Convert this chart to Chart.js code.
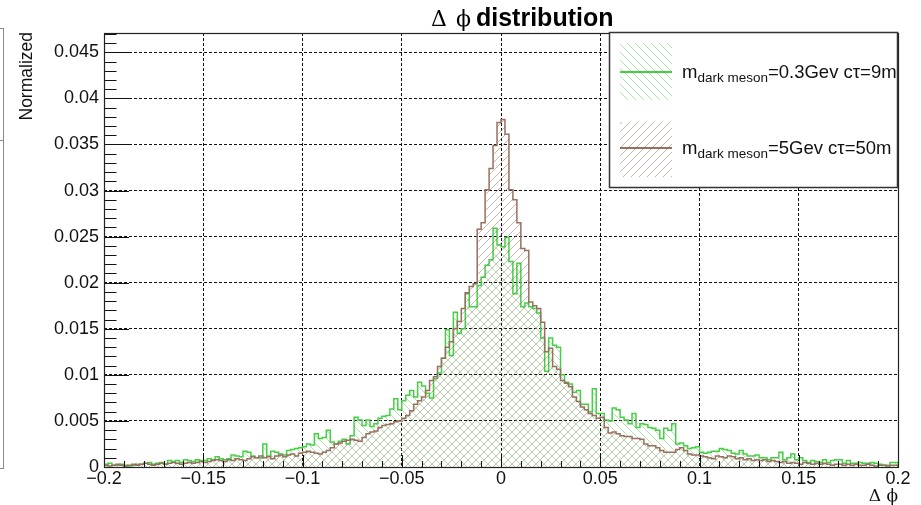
<!DOCTYPE html>
<html>
<head>
<meta charset="utf-8">
<title>Δϕ distribution</title>
<script src="https://cdn.jsdelivr.net/npm/chart.js@4/dist/chart.umd.min.js"></script>
<style>
  html, body { margin: 0; padding: 0; background: #fff; }
  #wrap { width: 921px; height: 505px; position: relative; }
</style>
</head>
<body>
<div id="wrap"><canvas id="c" width="921" height="505"></canvas></div>
<script>
// Histogram binning: 200 bins of width 0.002 over [-0.2, 0.2]
const binLow = -0.2;
const binHigh = 0.2;
const binWidth = 0.002;

// Axis ticks
const xMajorTicks = [-0.2, -0.15, -0.1, -0.05, 0, 0.05, 0.1, 0.15, 0.2];
const yMajorTicks = [0, 0.005, 0.01, 0.015, 0.02, 0.025, 0.03, 0.035, 0.04, 0.045];
const yMax = 0.0471;

// Series names (drawn with a subscript in the legend)
const seriesNames = [
  { base: 'm', sub: 'dark meson', rest: '=0.3Gev c\u03C4=9m' },
  { base: 'm', sub: 'dark meson', rest: '=5Gev c\u03C4=50m' }
];

// Normalized Δϕ contents, m = 0.3 GeV, cτ = 9 m
const lightMeson = [
  0.0003, 0.0004, 0.0002, 0.0002, 0.0003, 0.0002, 0.0001, 0.0002, 0.0003, 0.0003,
  0.0004, 0.0005, 0.0003, 0.0004, 0.0005, 0.0003, 0.0007, 0.0006, 0.0007, 0.0005,
  0.0008, 0.0007, 0.0006, 0.0008, 0.0007,
  0.0007, 0.0009, 0.0008, 0.0011, 0.0009, 0.0008, 0.0009, 0.0013, 0.0012, 0.0011,
  0.0017, 0.0016, 0.0012, 0.0010, 0.0010, 0.0025, 0.0012, 0.0017, 0.0016, 0.0014,
  0.0013, 0.0018, 0.0019, 0.0020, 0.0021,
  0.0022, 0.0025, 0.0024, 0.0036, 0.0031, 0.0032, 0.0040, 0.0027, 0.0025, 0.0028,
  0.0030, 0.0025, 0.0034, 0.0054, 0.0051, 0.0045, 0.0051, 0.0044, 0.0047, 0.0053,
  0.0055, 0.0056, 0.0063, 0.0074, 0.0062,
  0.0072, 0.0078, 0.0083, 0.0076, 0.0092, 0.0088, 0.0080, 0.0075, 0.0096, 0.0102,
  0.0118, 0.0149, 0.0121, 0.0168, 0.0145, 0.0150, 0.0188, 0.0174, 0.0174, 0.0197,
  0.0206, 0.0219, 0.0225, 0.0259, 0.0241,
  0.0239, 0.0249, 0.0223, 0.0188, 0.0221, 0.0174, 0.0178, 0.0174, 0.0172, 0.0167,
  0.0140, 0.0104, 0.0140, 0.0132, 0.0130, 0.0100, 0.0092, 0.0090, 0.0081, 0.0083,
  0.0068, 0.0068, 0.0060, 0.0085, 0.0058,
  0.0058, 0.0051, 0.0050, 0.0064, 0.0062, 0.0054, 0.0051, 0.0047, 0.0058, 0.0043,
  0.0047, 0.0046, 0.0043, 0.0042, 0.0040, 0.0031, 0.0042, 0.0040, 0.0047, 0.0025,
  0.0026, 0.0023, 0.0020, 0.0021, 0.0022,
  0.0016, 0.0015, 0.0016, 0.0017, 0.0017, 0.0020, 0.0019, 0.0018, 0.0015, 0.0014,
  0.0018, 0.0014, 0.0012, 0.0012, 0.0013, 0.0010, 0.0010, 0.0008, 0.0010, 0.0010,
  0.0016, 0.0008, 0.0010, 0.0014, 0.0008,
  0.0010, 0.0007, 0.0005, 0.0007, 0.0006, 0.0005, 0.0008, 0.0005, 0.0007, 0.0008,
  0.0008, 0.0004, 0.0007, 0.0004, 0.0004, 0.0005, 0.0004, 0.0004, 0.0005, 0.0004,
  0.0003, 0.0002, 0.0002, 0.0005, 0.0005
];

// Normalized Δϕ contents, m = 5 GeV, cτ = 50 m
const heavyMeson = [
  0.0002, 0.0001, 0.0002, 0.0003, 0.0002, 0.0001, 0.0002, 0.0003, 0.0002, 0.0003,
  0.0004, 0.0003, 0.0002, 0.0003, 0.0004, 0.0003, 0.0004, 0.0005, 0.0004, 0.0003,
  0.0004, 0.0005, 0.0004, 0.0005, 0.0006,
  0.0005, 0.0006, 0.0007, 0.0008, 0.0007, 0.0006, 0.0008, 0.0007, 0.0009, 0.0008,
  0.0007, 0.0009, 0.0011, 0.0010, 0.0012, 0.0010, 0.0011, 0.0009, 0.0012, 0.0013,
  0.0011, 0.0013, 0.0014, 0.0012, 0.0015,
  0.0016, 0.0017, 0.0016, 0.0015, 0.0014, 0.0016, 0.0018, 0.0021, 0.0025, 0.0026,
  0.0028, 0.0029, 0.0030, 0.0029, 0.0028, 0.0032, 0.0036, 0.0038, 0.0039, 0.0043,
  0.0045, 0.0046, 0.0047, 0.0049, 0.0050,
  0.0053, 0.0056, 0.0061, 0.0068, 0.0072, 0.0076, 0.0083, 0.0094, 0.0098, 0.0109,
  0.0118, 0.0130, 0.0136, 0.0150, 0.0158, 0.0172, 0.0189, 0.0196, 0.0199, 0.0258,
  0.0265, 0.0301, 0.0324, 0.0349, 0.0374,
  0.0377, 0.0361, 0.0301, 0.0290, 0.0265, 0.0237, 0.0235, 0.0179, 0.0175, 0.0172,
  0.0157, 0.0125, 0.0129, 0.0109, 0.0106, 0.0094, 0.0091, 0.0087, 0.0076, 0.0071,
  0.0065, 0.0062, 0.0058, 0.0056, 0.0053,
  0.0054, 0.0043, 0.0037, 0.0038, 0.0036, 0.0034, 0.0033, 0.0033, 0.0031, 0.0031,
  0.0030, 0.0025, 0.0023, 0.0023, 0.0021, 0.0018, 0.0016, 0.0016, 0.0016, 0.0019,
  0.0021, 0.0018, 0.0014, 0.0013, 0.0013,
  0.0012, 0.0011, 0.0010, 0.0009, 0.0012, 0.0011, 0.0010, 0.0012, 0.0011, 0.0009,
  0.0010, 0.0008, 0.0009, 0.0007, 0.0008, 0.0007, 0.0008, 0.0006, 0.0007, 0.0006,
  0.0005, 0.0006, 0.0004, 0.0005, 0.0004,
  0.0003, 0.0005, 0.0004, 0.0003, 0.0004, 0.0003, 0.0004, 0.0003, 0.0002, 0.0003,
  0.0003, 0.0002, 0.0003, 0.0002, 0.0003, 0.0002, 0.0002, 0.0003, 0.0002, 0.0001,
  0.0002, 0.0002, 0.0001, 0.0002, 0.0002
];

// Colours
const greenLine = '#45cf45';
const greenHatch = 'rgba(90, 205, 90, 0.5)';
const brownLine = '#98705f';
const brownHatch = 'rgba(150, 112, 98, 0.5)';

const canvas = document.getElementById('c');
const ctx = canvas.getContext('2d');

// Diagonal hatch fills: dir > 0 draws "/", dir < 0 draws "\"
function hatch(color, dir) {
  const s = 8;
  const t = document.createElement('canvas');
  t.width = s; t.height = s;
  const g = t.getContext('2d');
  g.strokeStyle = color;
  g.lineWidth = 1;
  g.beginPath();
  if (dir > 0) {
    g.moveTo(0, s); g.lineTo(s, 0);
    g.moveTo(-1, 1); g.lineTo(1, -1);
    g.moveTo(s - 1, s + 1); g.lineTo(s + 1, s - 1);
  } else {
    g.moveTo(0, 0); g.lineTo(s, s);
    g.moveTo(s - 1, -1); g.lineTo(s + 1, 1);
    g.moveTo(-1, s - 1); g.lineTo(1, s + 1);
  }
  g.stroke();
  return ctx.createPattern(t, 'repeat');
}
const greenPattern = hatch(greenHatch, -1);
const brownPattern = hatch(brownHatch, 1);

// Step outline points: each bin starts at its low edge; closed down to zero at both ends
function histPoints(values) {
  const pts = [{ x: binLow, y: 0 }];
  values.forEach((v, i) => pts.push({ x: binLow + i * binWidth, y: v }));
  pts.push({ x: binHigh, y: values[values.length - 1] });
  pts.push({ x: binHigh, y: 0 });
  return pts;
}

function fmt(v) {
  const s = String(Number(v.toFixed(4)));
  return s.replace('-', '\u2212');
}

const SANS = '"Liberation Sans", Arial, Helvetica, sans-serif';
const SERIF = '"DejaVu Serif", "Liberation Serif", serif';
const PHI = '\u03D5';

// Frame, inner ticks, titles and legend
const decorations = {
  id: 'decorations',
  beforeDraw(chart) {
    const c = chart.ctx;
    c.save();
    c.fillStyle = '#fff';
    c.fillRect(0, 0, chart.width, chart.height);
    c.restore();
  },
  afterDatasetsDraw(chart) {
    const c = chart.ctx;
    const a = chart.chartArea;
    const xs = chart.scales.x, ys = chart.scales.y;
    c.save();

    // neighbouring pad edge at the far left
    c.strokeStyle = '#8a8a8a';
    c.lineWidth = 1;
    c.beginPath();
    c.moveTo(3.5, 28); c.lineTo(3.5, 469);
    c.moveTo(0, 28.5); c.lineTo(4, 28.5);
    c.moveTo(0, 140.5); c.lineTo(4, 140.5);
    c.moveTo(0, 468.5); c.lineTo(4, 468.5);
    c.stroke();

    // ticks on the y axis (minor every 0.001, major every 0.005)
    c.strokeStyle = '#111';
    c.lineWidth = 1;
    c.beginPath();
    for (let k = 0; k <= 47; k++) {
      const v = k / 1000;
      if (v > yMax) break;
      const py = Math.round(ys.getPixelForValue(v)) + 0.5;
      const len = (k % 5 === 0) ? 25 : 12.5;
      c.moveTo(a.left, py); c.lineTo(a.left + len, py);
    }
    // ticks on the x axis (minor every 0.01, major every 0.05)
    for (let k = -20; k <= 20; k++) {
      const v = k / 100;
      const px = Math.round(xs.getPixelForValue(v)) + 0.5;
      const len = (k % 5 === 0) ? 12 : 6;
      c.moveTo(px, a.bottom); c.lineTo(px, a.bottom - len);
    }
    c.stroke();

    // frame
    c.strokeStyle = '#222';
    c.lineWidth = 1.2;
    c.strokeRect(Math.round(a.left) + 0.5, Math.round(a.top) + 0.5,
                 Math.round(a.right - a.left), Math.round(a.bottom - a.top));

    // legend
    const lx = 609.5, ly = 32.5, lw = 288, lh = 155;
    c.fillStyle = '#fff';
    c.fillRect(lx, ly, lw, lh);
    c.strokeStyle = '#333';
    c.lineWidth = 1.5;
    c.strokeRect(lx, ly, lw, lh);

    const entries = [
      { pat: greenPattern, line: greenLine, top: 43, bottom: 100, mid: 72, base: 78, name: seriesNames[0] },
      { pat: brownPattern, line: brownLine, top: 122, bottom: 177, mid: 148, base: 154, name: seriesNames[1] }
    ];
    entries.forEach(e => {
      c.fillStyle = e.pat;
      c.fillRect(620, e.top, 52, e.bottom - e.top);
      c.strokeStyle = e.line;
      c.lineWidth = 1.8;
      c.beginPath();
      c.moveTo(620, e.mid); c.lineTo(672, e.mid);
      c.stroke();

      c.fillStyle = '#111';
      c.textBaseline = 'alphabetic';
      c.textAlign = 'left';
      let x = 682;
      c.font = '18.5px ' + SANS;
      c.fillText(e.name.base, x, e.base);
      x += c.measureText(e.name.base).width;
      c.font = '13.5px ' + SANS;
      c.fillText(e.name.sub, x, e.base + 4);
      x += c.measureText(e.name.sub).width;
      c.font = '18.5px ' + SANS;
      c.fillText(e.name.rest, x, e.base);
    });

    // title
    c.fillStyle = '#000';
    c.textAlign = 'left';
    c.textBaseline = 'alphabetic';
    c.font = '22px ' + SERIF;
    c.fillText('\u0394', 431, 26);
    c.fillText(PHI, 456, 26);
    c.font = 'bold 25px ' + SANS;
    c.fillText('distribution', 476, 26);

    // y axis title
    c.save();
    c.translate(32, 32);
    c.rotate(-Math.PI / 2);
    c.textAlign = 'right';
    c.font = '17.5px ' + SANS;
    c.fillStyle = '#111';
    c.fillText('Normalized', 0, 0);
    c.restore();

    // x axis title
    c.textAlign = 'right';
    c.font = '17px ' + SERIF;
    c.fillStyle = '#111';
    c.fillText('\u0394 ' + PHI, 898, 501);

    c.restore();
  }
};

new Chart(canvas, {
  type: 'scatter',
  data: {
    datasets: [
      {
        label: seriesNames[1].base + seriesNames[1].sub + seriesNames[1].rest,
        data: histPoints(heavyMeson),
        showLine: true,
        stepped: 'before',
        borderColor: brownLine,
        borderWidth: 1.5,
        backgroundColor: brownPattern,
        fill: 'origin',
        pointRadius: 0,
        pointHoverRadius: 0
      },
      {
        label: seriesNames[0].base + seriesNames[0].sub + seriesNames[0].rest,
        data: histPoints(lightMeson),
        showLine: true,
        stepped: 'before',
        borderColor: greenLine,
        borderWidth: 1.5,
        backgroundColor: greenPattern,
        fill: 'origin',
        pointRadius: 0,
        pointHoverRadius: 0
      }
    ]
  },
  options: {
    responsive: false,
    animation: false,
    devicePixelRatio: 1,
    layout: { padding: { left: 0, top: 33, right: 23, bottom: 0 } },
    plugins: {
      legend: { display: false },
      title: { display: false },
      tooltip: { enabled: false }
    },
    scales: {
      x: {
        type: 'linear',
        min: binLow,
        max: binHigh,
        afterBuildTicks(scale) {
          scale.ticks = xMajorTicks.map(v => ({ value: v }));
        },
        afterFit(scale) { scale.height = 38; },
        ticks: {
          callback: v => fmt(v),
          autoSkip: false,
          maxRotation: 0,
          padding: 1,
          color: '#111',
          font: { family: SANS, size: 18 }
        },
        grid: { color: '#111', lineWidth: 1, drawTicks: false },
        border: { display: false, dash: [3, 2] }
      },
      y: {
        type: 'linear',
        min: 0,
        max: yMax,
        afterBuildTicks(scale) {
          scale.ticks = yMajorTicks.map(v => ({ value: v }));
        },
        afterFit(scale) { scale.width = 104; },
        ticks: {
          callback: v => fmt(v),
          autoSkip: false,
          padding: 5,
          color: '#111',
          font: { family: SANS, size: 18 }
        },
        grid: { color: '#111', lineWidth: 1, drawTicks: false },
        border: { display: false, dash: [3, 2] }
      }
    }
  },
  plugins: [decorations]
});
</script>
</body>
</html>
